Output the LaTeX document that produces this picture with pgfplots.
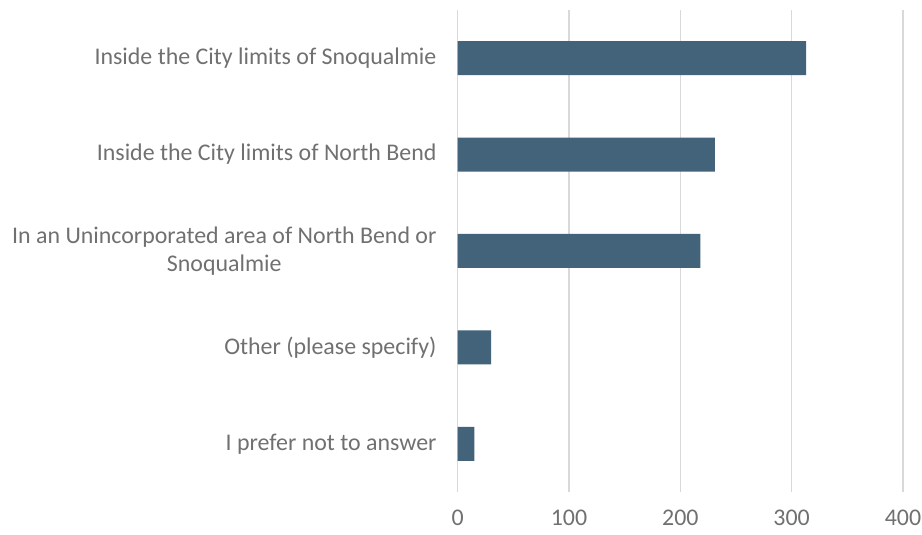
\documentclass[border=0pt]{standalone}
\usepackage{fontspec}
\setmainfont{Carlito}
\usepackage{pgfplots}
\pgfplotsset{compat=1.18}
\definecolor{barc}{HTML}{42637A}
\definecolor{gridc}{HTML}{D9D9D9}
\definecolor{txtc}{HTML}{707070}
\begin{document}
\begin{tikzpicture}
\useasboundingbox (-457.7bp,-43bp) rectangle (464.3bp,492bp);
\begin{axis}[
    at={(0,0)}, anchor=south west,
    scale only axis,
    width=445.3bp, height=482bp,
    xmin=0, xmax=400,
    ymin=-0.5, ymax=4.5,
    xtick={0,100,200,300,400},
    ytick={0,1,2,3,4},
    yticklabels={I prefer not to answer, Other (please specify), {In an Unincorporated area of North Bend or\\Snoqualmie}, Inside the City limits of North Bend, Inside the City limits of Snoqualmie},
    xmajorgrids,
    grid style={color=gridc, line width=1.4bp},
    axis line style={draw=none},
    major tick length=0,
    tick label style={font=\fontsize{24}{28}\selectfont, text=txtc},
    /pgf/number format/assume math mode=true,
    yticklabel style={align=center, inner xsep=0pt, xshift=-21bp},
    xticklabel style={inner ysep=0pt, yshift=-18bp},
]
\addplot[xbar, bar width=34bp, fill=barc, draw=none]
    coordinates {(313,4) (231,3) (218,2) (30,1) (15,0)};
\end{axis}
\end{tikzpicture}
\end{document}
